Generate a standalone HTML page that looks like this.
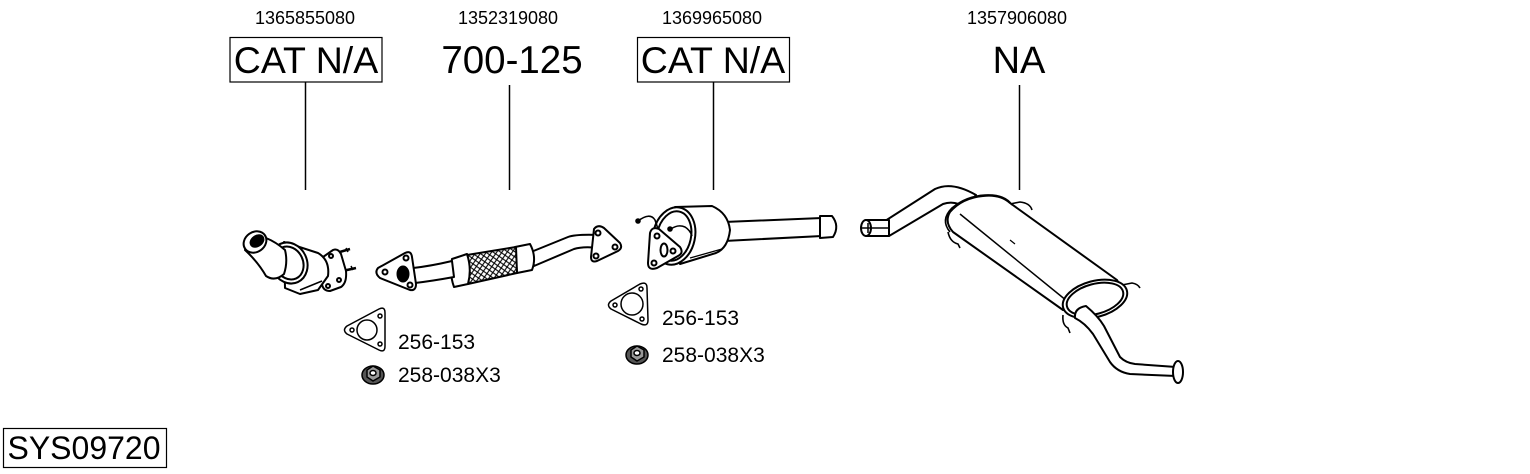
<!DOCTYPE html>
<html>
<head>
<meta charset="utf-8">
<style>
  html,body{margin:0;padding:0;background:#fff;}
  body{width:1530px;height:474px;overflow:hidden;position:relative;}
  svg{position:absolute;left:0;top:0;}
  text{font-family:"Liberation Sans",Arial,sans-serif;fill:#000;}
</style>
</head>
<body>
<svg width="1530" height="474" viewBox="0 0 1530 474" xmlns="http://www.w3.org/2000/svg">
  <defs>
    <pattern id="hatch" patternUnits="userSpaceOnUse" width="6" height="6" patternTransform="rotate(-10)">
      <rect width="6" height="6" fill="#fff"/>
      <path d="M0 6 L6 0 M0 0 L6 6" stroke="#000" stroke-width="1.1"/>
    </pattern>
  </defs>

  <!-- Part numbers -->
  <text x="305" y="24" font-size="18" text-anchor="middle">1365855080</text>
  <text x="508" y="24" font-size="18" text-anchor="middle">1352319080</text>
  <text x="712" y="24" font-size="18" text-anchor="middle">1369965080</text>
  <text x="1017" y="24" font-size="18" text-anchor="middle">1357906080</text>

  <!-- Big labels -->
  <rect x="230" y="37.5" width="152" height="44.5" fill="none" stroke="#000" stroke-width="1.2"/>
  <text x="306" y="73" font-size="37.5" text-anchor="middle">CAT N/A</text>
  <text x="512" y="73" font-size="38.5" text-anchor="middle">700-125</text>
  <rect x="637.5" y="37.5" width="152" height="44.5" fill="none" stroke="#000" stroke-width="1.2"/>
  <text x="713" y="73" font-size="37.5" text-anchor="middle">CAT N/A</text>
  <text x="1019" y="73" font-size="38" text-anchor="middle">NA</text>

  <!-- Leader lines -->
  <g stroke="#000" stroke-width="1.5">
    <line x1="305.5" y1="82" x2="305.5" y2="190"/>
    <line x1="509.5" y1="85" x2="509.5" y2="190"/>
    <line x1="713.5" y1="82" x2="713.5" y2="190"/>
    <line x1="1019.5" y1="85" x2="1019.5" y2="190"/>
  </g>

  <!-- ============ Catalyst 1 ============ -->
  <g fill="#fff" stroke="#000" stroke-width="2" stroke-linejoin="round">
    <!-- studs -->
    <path d="M333 254 L350 249" stroke-width="2.5"/>
    <path d="M338 272 L356 268" stroke-width="2.5"/>
    <path d="M346 248 L348 252 M351 266 L353 270" stroke-width="1.5"/>
    <!-- flange -->
    <path d="M323 257 L333 250 Q338 248 341 254 L346 271 Q347 283 341 287 L330 291 Q323 291 322 284 Z"/>
    <circle cx="331" cy="256" r="2" />
    <circle cx="339" cy="280" r="2" />
    <circle cx="328" cy="286" r="2" />
    <!-- body -->
    <path d="M284 242 L318 253 Q330 260 328 276 L318 290 L300 294 L285 288 Z"/>
    <path d="M300 290 L322 281" fill="none" stroke-width="1.5"/>
    <!-- front rim -->
    <ellipse cx="289" cy="263" rx="18" ry="21" transform="rotate(-25 289 263)"/>
    <ellipse cx="289" cy="263" rx="14" ry="17" transform="rotate(-25 289 263)"/>
    <!-- neck -->
    <path d="M245 250 Q258 262 266 276 Q275 282 284 274 Q288 262 285 250 Q276 242 266 238 Z"/>
    <!-- inlet -->
    <ellipse cx="255" cy="242" rx="12" ry="10" transform="rotate(-35 255 242)"/>
    <ellipse cx="257" cy="241" rx="7" ry="5" transform="rotate(-35 257 241)" fill="#000"/>
  </g>

  <!-- ============ Front pipe 700-125 ============ -->
  <g fill="#fff" stroke="#000" stroke-width="2" stroke-linejoin="round">
    <!-- right pipe -->
    <path d="M531 252 L568 237 Q576 234 600 235 L600 248 Q583 246 574 249 L534 266 Z"/>
    <!-- right flange -->
    <path d="M594 229 Q598 224 604 228 L620 243 Q623 248 618 251 L597 261 Q591 263 591 257 Z"/>
    <circle cx="598" cy="233" r="2.5"/>
    <circle cx="615" cy="247" r="2.5"/>
    <circle cx="596" cy="256" r="2.5"/>
    <!-- right collar -->
    <path d="M515 247 L530 244 Q537 257 532 270 L517 273 Z"/>
    <!-- flex -->
    <path d="M467 255 L516 247 L517 273 L468 284 Z" fill="url(#hatch)"/>
    <!-- left collar -->
    <path d="M452 259 L467 254 Q472 269 468 284 L454 287 Q449 273 452 259 Z"/>
    <!-- left pipe -->
    <path d="M413 268 Q431 266 452 261 L454 277 Q432 281 415 283 Z"/>
    <!-- left flange -->
    <path d="M378 268 L405 253 Q411 250 412 257 L416 284 Q416 291 410 290 L380 278 Q374 273 378 268 Z"/>
    <circle cx="385" cy="272" r="2.5"/>
    <circle cx="406" cy="258" r="2.5"/>
    <circle cx="410" cy="285" r="2.5"/>
    <ellipse cx="403" cy="274" rx="5.5" ry="7.5" fill="#000"/>
  </g>

  <!-- ============ Catalyst 3 ============ -->
  <g fill="#fff" stroke="#000" stroke-width="2" stroke-linejoin="round">
    <!-- outlet pipe -->
    <path d="M724 222 L822 218 L822 236 L724 241 Z"/>
    <path d="M820 216 L832 216 Q840 226 833 237 L820 238 Z"/>
    <!-- body -->
    <path d="M675 207 L712 206 Q728 213 730 230 Q728 248 716 253 L680 264 Z"/>
    <path d="M690 258 L722 249" fill="none" stroke-width="1.3"/>
    <!-- rim -->
    <ellipse cx="674" cy="236" rx="21" ry="29" transform="rotate(12 674 236)"/>
    <ellipse cx="674" cy="236" rx="17" ry="25" transform="rotate(12 674 236)"/>
    <!-- wires -->
    <path d="M638 221 Q650 212 655 220 Q658 228 660 238" fill="none" stroke-width="1.6"/>
    <path d="M671 229 Q678 224 685 227 Q690 230 692 236" fill="none" stroke-width="1.6"/>
    <circle cx="638" cy="221" r="1.8" fill="#000"/>
    <circle cx="670" cy="229" r="1.8" fill="#000"/>
    <!-- flange -->
    <path d="M650 233 Q652 226 659 229 L680 247 Q684 253 678 256 L657 268 Q648 271 648 263 Z"/>
    <circle cx="657" cy="236" r="2.5"/>
    <circle cx="673" cy="251" r="2.5"/>
    <circle cx="654" cy="263" r="2.5"/>
    <ellipse cx="664" cy="250" rx="3.5" ry="6.5" fill="#fff"/>
  </g>

  <!-- ============ Rear muffler ============ -->
  <g fill="#fff" stroke="#000" stroke-width="2" stroke-linejoin="round">
    <!-- inlet pipe -->
    <path d="M885 221 L935 189 Q952 181 976 195 L966 208 Q955 200 943 204 L889 236 Z"/>
    <!-- inlet clip -->
    <path d="M866 220 L889 220 L889 236 L866 236 Z"/>
    <ellipse cx="866" cy="228" rx="5" ry="8"/>
    <path d="M862 228 L888 228 M868 223 L868 233" fill="none" stroke-width="1.5"/>
    <!-- hangers -->
    <path d="M1010 204 L1020 202 Q1030 203 1032 210" fill="none" stroke-width="1.6"/>
    <path d="M948 232 Q950 242 958 244 L960 248" fill="none" stroke-width="1.6"/>
    <path d="M1122 285 L1132 283 Q1138 284 1140 288" fill="none" stroke-width="1.6"/>
    <path d="M1063 315 Q1062 325 1068 328 L1070 333" fill="none" stroke-width="1.6"/>
    <!-- body -->
    <path d="M983 196 Q1000 194 1010 203 L1117 280 Q1125 292 1110 302 L1063 310 L953 232 Q944 222 950 212 Q962 198 983 196 Z"/>
    <path d="M960 214 L1067 301" fill="none" stroke-width="1.5"/>
    <path d="M1010 240 L1015 244" fill="none" stroke-width="1.2"/>
    <!-- front rim -->
    <path d="M950 232 Q940 220 952 208 Q966 196 985 195 Q1005 194 1012 205" fill="none" stroke-width="1.6"/>
    <!-- rear rim -->
    <ellipse cx="1095" cy="299" rx="33" ry="18" transform="rotate(-15 1095 299)"/>
    <ellipse cx="1095" cy="299" rx="29" ry="15" transform="rotate(-15 1095 299)"/>
    <!-- outlet pipe -->
    <path d="M1086 306 Q1098 316 1104 326 L1120 357 Q1126 363 1135 364 L1176 367 L1176 376 L1130 374 Q1117 372 1110 362 L1093 334 Q1085 323 1075 318 Q1074 308 1086 306 Z"/>
    <ellipse cx="1178" cy="372" rx="5" ry="11"/>
  </g>

  <!-- ============ Gaskets & nuts ============ -->
  <g fill="#fff" stroke="#000" stroke-width="1.5" stroke-linejoin="round">
    <!-- gasket 1 -->
    <path d="M347 326 L379 309 Q385 306 385 313 L385 346 Q385 353 379 350 L347 334 Q342 330 347 326 Z"/>
    <circle cx="367" cy="330" r="10"/>
    <circle cx="352" cy="330" r="2"/>
    <circle cx="380" cy="316" r="2"/>
    <circle cx="380" cy="344" r="2"/>
    <!-- nut 1 -->
    <ellipse cx="373" cy="375" rx="11" ry="9" fill="#555"/>
    <path d="M367 370 L373 366 L380 370 L380 377 L373 381 L367 377 Z" fill="#999"/>
    <ellipse cx="373" cy="373" rx="3" ry="2.5" fill="#fff"/>
    <!-- gasket 2 -->
    <path d="M611 301 L640 284 Q647 281 647 288 L648 320 Q648 327 641 324 L611 309 Q606 305 611 301 Z"/>
    <circle cx="632" cy="304" r="11"/>
    <circle cx="615" cy="305" r="2"/>
    <circle cx="641" cy="289" r="2"/>
    <circle cx="642" cy="319" r="2"/>
    <!-- nut 2 -->
    <ellipse cx="637" cy="355" rx="11" ry="9" fill="#555"/>
    <path d="M631 350 L637 346 L644 350 L644 357 L637 361 L631 357 Z" fill="#999"/>
    <ellipse cx="637" cy="353" rx="3" ry="2.5" fill="#fff"/>
  </g>

  <text x="398" y="349" font-size="21">256-153</text>
  <text x="398" y="382" font-size="21">258-038X3</text>
  <text x="662" y="325" font-size="21">256-153</text>
  <text x="662" y="362" font-size="21">258-038X3</text>

  <!-- System number -->
  <rect x="3.5" y="428.5" width="163" height="39" fill="none" stroke="#000" stroke-width="1.2"/>
  <text x="84" y="459" font-size="32" text-anchor="middle">SYS09720</text>
</svg>
</body>
</html>
